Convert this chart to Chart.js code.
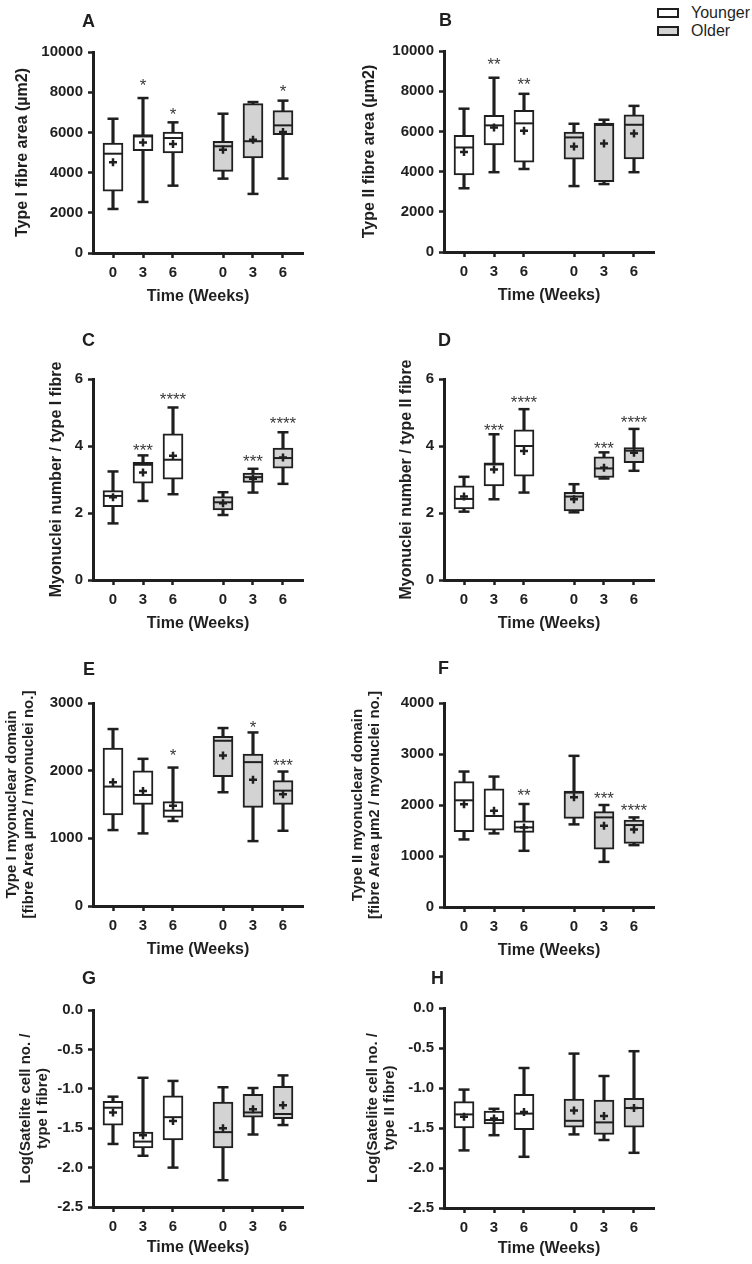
<!DOCTYPE html>
<html>
<head>
<meta charset="utf-8">
<script src="https://cdn.jsdelivr.net/npm/chart.js@4.4.1/dist/chart.umd.min.js"></script>
<style>
  body {
    margin: 0;
    width: 752px;
    height: 1264px;
    position: relative;
    overflow: hidden;
    background: #fff;
    color: #1f1f1f;
    font-family: "Liberation Sans", Arial, sans-serif;
  }
  canvas { position: absolute; }
  .letter { position: absolute; font-size: 18px; line-height: 18px; font-weight: bold; }
  .legend-row { position: absolute; left: 657px; height: 16px; display: flex; align-items: center; font-size: 16px; line-height: 16px; }
  .swatch { width: 18px; height: 6px; border: 2px solid #1f1f1f; margin-right: 12px; }
</style>
</head>
<body>
<div class="legend-row" style="top:5px"><div class="swatch" style="background:#fff"></div>Younger</div>
<div class="legend-row" style="top:23px"><div class="swatch" style="background:#d3d3d3"></div>Older</div>

<script>
const weekLabels = ['0', '3', '6', '0', '3', '6'];
const ageGroup = ['Younger', 'Younger', 'Younger', 'Older', 'Older', 'Older'];

// A - type I fibre area
const aMin  = [2190, 2540, 3350, 3700, 2940, 3700];
const aQ1   = [3070, 5090, 4980, 4060, 4730, 5890];
const aMed  = [4940, 5800, 5720, 5310, 5560, 6350];
const aQ3   = [5470, 5890, 6020, 5560, 7430, 7080];
const aMax  = [6680, 7710, 6500, 6930, 7510, 7580];
const aMean = [4510, 5500, 5420, 5140, 5640, 6020];
const aStars = ['', '*', '*', '', '', '*'];
const aStarAt = [0, 8540, 7130, 0, 0, 8240];

// B - type II fibre area
const bMin  = [3170, 3970, 4130, 3280, 3380, 3970];
const bQ1   = [3830, 5330, 4470, 4620, 3500, 4630];
const bMed  = [5200, 6300, 6400, 5700, 6320, 6330];
const bQ3   = [5800, 6800, 7050, 5970, 6420, 6830];
const bMax  = [7130, 8670, 7870, 6380, 6580, 7270];
const bMean = [4970, 6200, 6030, 5250, 5400, 5900];
const bStars = ['', '**', '**', '', '', ''];
const bStarAt = [0, 9530, 8530, 0, 0, 0];

// C - myonuclei per type I fibre
const cMin  = [1.69, 2.36, 2.56, 1.94, 2.61, 2.87];
const cQ1   = [2.19, 2.89, 3.01, 2.09, 2.91, 3.34];
const cMed  = [2.51, 3.44, 3.59, 2.32, 3.07, 3.64];
const cQ3   = [2.67, 3.51, 4.36, 2.49, 3.19, 3.94];
const cMax  = [3.24, 3.72, 5.15, 2.62, 3.32, 4.41];
const cMean = [2.47, 3.21, 3.71, 2.29, 3.02, 3.66];
const cStars = ['', '***', '****', '', '***', '****'];
const cStarAt = [0, 3.99, 5.53, 0, 3.66, 4.81];

// D - myonuclei per type II fibre
const dMin  = [2.04, 2.41, 2.61, 2.02, 3.03, 3.26];
const dQ1   = [2.12, 2.81, 3.10, 2.06, 3.06, 3.50];
const dMed  = [2.42, 3.45, 4.00, 2.49, 3.33, 3.86];
const dQ3   = [2.81, 3.50, 4.48, 2.62, 3.68, 3.95];
const dMax  = [3.08, 4.35, 5.10, 2.86, 3.81, 4.51];
const dMean = [2.49, 3.30, 3.85, 2.41, 3.35, 3.80];
const dStars = ['', '***', '****', '', '***', '****'];
const dStarAt = [0, 4.60, 5.44, 0, 4.06, 4.83];

// E - type I myonuclear domain
const eMin  = [1122, 1073, 1256, 1681, 959, 1112];
const eQ1   = [1345, 1503, 1310, 1913, 1458, 1503];
const eMed  = [1765, 1641, 1409, 2442, 2126, 1705];
const eQ3   = [2333, 1997, 1542, 2506, 2244, 1854];
const eMax  = [2615, 2175, 2046, 2630, 2565, 1987];
const eMean = [1829, 1700, 1483, 2224, 1864, 1651];
const eStars = ['', '', '*', '', '*', '***'];
const eStarAt = [0, 0, 2284, 0, 2704, 2135];

// F - type II myonuclear domain
const fMin  = [1325, 1443, 1102, 1620, 885, 1213];
const fQ1   = [1475, 1508, 1462, 1738, 1134, 1246];
const fMed  = [2092, 1784, 1561, 2243, 1757, 1607];
const fQ3   = [2459, 2315, 1692, 2275, 1869, 1705];
const fMax  = [2656, 2557, 2020, 2964, 2000, 1757];
const fMean = [2013, 1889, 1561, 2151, 1593, 1521];
const fStars = ['', '', '**', '', '***', '****'];
const fStarAt = [0, 0, 2262, 0, 2216, 1987];

// G - log satellite cells per type I fibre
const gMin  = [-1.70, -1.85, -2.00, -2.16, -1.58, -1.46];
const gQ1   = [-1.46, -1.75, -1.65, -1.75, -1.36, -1.38];
const gMed  = [-1.24, -1.67, -1.36, -1.55, -1.30, -1.32];
const gQ3   = [-1.16, -1.55, -1.09, -1.17, -1.07, -0.97];
const gMax  = [-1.10, -0.86, -0.90, -0.98, -0.99, -0.83];
const gMean = [-1.30, -1.59, -1.41, -1.50, -1.26, -1.21];

// H - log satellite cells per type II fibre
const hMin  = [-1.78, -1.59, -1.86, -1.58, -1.65, -1.81];
const hQ1   = [-1.50, -1.45, -1.52, -1.49, -1.58, -1.49];
const hMed  = [-1.33, -1.40, -1.32, -1.41, -1.43, -1.25];
const hQ3   = [-1.17, -1.29, -1.08, -1.14, -1.15, -1.13];
const hMax  = [-1.02, -1.26, -0.75, -0.57, -0.85, -0.54];
const hMean = [-1.36, -1.38, -1.30, -1.28, -1.35, -1.25];

const noStars = ['', '', '', '', '', ''];

const ink = '#1f1f1f';
const fontFamily = '"Liberation Sans", Arial, sans-serif';
const groupFill = { Younger: '#ffffff', Older: '#d3d3d3' };
// slot positions on the x axis (gap between the two age groups)
const slotX = [0, 1, 2, 3.667, 4.667, 5.667];

const starPlugin = {
    id: 'starMarks',
    afterDatasetsDraw(chart, args, opts) {
        const { ctx, scales: { x, y } } = chart;
        const size = 17;
        ctx.save();
        ctx.font = size + 'px ' + fontFamily;
        ctx.fillStyle = '#3a3a3a';
        ctx.textAlign = 'center';
        ctx.textBaseline = 'alphabetic';
        opts.labels.forEach((txt, i) => {
            if (!txt) return;
            ctx.fillText(txt, x.getPixelForValue(slotX[i]), y.getPixelForValue(opts.at[i]) + size * 0.58);
        });
        ctx.restore();
    }
};

const panels = [
    { letter: 'A', left: 0, axisX: 93, top: 52, bottom: 253, min: 0, max: 10000, step: 2000, dec: 0,
      title: 'Type I fibre area (µm2)', titleX: 23, xGap: 44,
      stats: [aMin, aQ1, aMed, aQ3, aMax, aMean], stars: aStars, starAt: aStarAt,
      letterPos: [82, 12] },
    { letter: 'B', left: 336, axisX: 444, top: 51, bottom: 252, min: 0, max: 10000, step: 2000, dec: 0,
      title: 'Type II fibre area (µm2)', titleX: 370, xGap: 44,
      stats: [bMin, bQ1, bMed, bQ3, bMax, bMean], stars: bStars, starAt: bStarAt,
      letterPos: [439, 11] },
    { letter: 'C', left: 0, axisX: 93, top: 379, bottom: 580, min: 0, max: 6, step: 2, dec: 0,
      title: 'Myonuclei number / type I fibre', titleX: 57, xGap: 44,
      stats: [cMin, cQ1, cMed, cQ3, cMax, cMean], stars: cStars, starAt: cStarAt,
      letterPos: [82, 331] },
    { letter: 'D', left: 336, axisX: 444, top: 379, bottom: 580, min: 0, max: 6, step: 2, dec: 0,
      title: 'Myonuclei number / type II fibre', titleX: 407, xGap: 44,
      stats: [dMin, dQ1, dMed, dQ3, dMax, dMean], stars: dStars, starAt: dStarAt,
      letterPos: [438, 331] },
    { letter: 'E', left: 0, axisX: 93, top: 703, bottom: 906, min: 0, max: 3000, step: 1000, dec: 0,
      title: ['Type I myonuclear domain', '[fibre Area µm2 / myonuclei no.]'], titleX: 12, xGap: 44,
      stats: [eMin, eQ1, eMed, eQ3, eMax, eMean], stars: eStars, starAt: eStarAt,
      letterPos: [83, 660] },
    { letter: 'F', left: 336, axisX: 444, top: 703, bottom: 907, min: 0, max: 4000, step: 1000, dec: 0,
      title: ['Type II myonuclear domain', '[fibre Area µm2 / myonuclei no.]'], titleX: 358, xGap: 44,
      stats: [fMin, fQ1, fMed, fQ3, fMax, fMean], stars: fStars, starAt: fStarAt,
      letterPos: [438, 659] },
    { letter: 'G', left: 0, axisX: 93, top: 1010, bottom: 1207, min: -2.5, max: 0, step: 0.5, dec: 1,
      title: ['Log(Satelite cell no. /', 'type I fibre)'], titleX: 26, xGap: 41,
      stats: [gMin, gQ1, gMed, gQ3, gMax, gMean], stars: noStars, starAt: [],
      letterPos: [82, 969] },
    { letter: 'H', left: 336, axisX: 444, top: 1008, bottom: 1208, min: -2.5, max: 0, step: 0.5, dec: 1,
      title: ['Log(Satelite cell no. /', 'type II fibre)'], titleX: 373, xGap: 41,
      stats: [hMin, hQ1, hMed, hQ3, hMax, hMean], stars: noStars, starAt: [],
      letterPos: [431, 969] }
];

function buildPanel(p) {
    const padTop = 40;
    const xAxisH = 60;
    const plotW = 210;
    const yW = p.axisX - p.left;
    const width = p.left === 0 ? 376 : 416;
    const height = (p.bottom - p.top) + padTop + xAxisH;

    const canvas = document.createElement('canvas');
    canvas.width = width;
    canvas.height = height;
    canvas.style.left = p.left + 'px';
    canvas.style.top = (p.top - padTop) + 'px';
    document.body.appendChild(canvas);

    const label = document.createElement('div');
    label.className = 'letter';
    label.textContent = p.letter;
    label.style.left = p.letterPos[0] + 'px';
    label.style.top = p.letterPos[1] + 'px';
    document.body.appendChild(label);

    const [mins, q1, med, q3, maxs, mean] = p.stats;
    const multi = Array.isArray(p.title);
    const titleSize = multi ? 15 : 16;
    const titleLH = multi ? 17 : 19.2;
    const tickFont = { family: fontFamily, size: 15, weight: 'bold' };

    new Chart(canvas.getContext('2d'), {
        type: 'bar',
        data: {
            datasets: [
                {
                    // whisker stems
                    type: 'bar',
                    data: slotX.map((x, i) => ({ x, y: [mins[i], maxs[i]] })),
                    backgroundColor: ink,
                    barThickness: 2.5,
                    grouped: false,
                    order: 5
                },
                {
                    // boxes
                    type: 'bar',
                    data: slotX.map((x, i) => ({ x, y: [q1[i], q3[i]] })),
                    backgroundColor: ageGroup.map(g => groupFill[g]),
                    borderColor: ink,
                    borderWidth: 2,
                    borderSkipped: false,
                    barThickness: 20,
                    grouped: false,
                    order: 4
                },
                {
                    // whisker caps
                    type: 'scatter',
                    data: slotX.map((x, i) => ({ x, y: mins[i] })).concat(slotX.map((x, i) => ({ x, y: maxs[i] }))),
                    pointStyle: 'line',
                    pointRadius: 5.5,
                    borderWidth: 2.5,
                    borderColor: ink,
                    order: 3
                },
                {
                    // medians
                    type: 'scatter',
                    data: slotX.map((x, i) => ({ x, y: med[i] })),
                    pointStyle: 'line',
                    pointRadius: 9,
                    borderWidth: 2,
                    borderColor: ink,
                    order: 2
                },
                {
                    // means
                    type: 'scatter',
                    data: slotX.map((x, i) => ({ x, y: mean[i] })),
                    pointStyle: 'cross',
                    pointRadius: 4,
                    borderWidth: 2.5,
                    borderColor: ink,
                    order: 1
                }
            ]
        },
        options: {
            responsive: false,
            animation: false,
            events: [],
            devicePixelRatio: 1,
            layout: { padding: { top: padTop, right: width - yW - plotW, bottom: 0, left: 0 } },
            plugins: {
                legend: { display: false },
                tooltip: { enabled: false },
                starMarks: { labels: p.stars, at: p.starAt }
            },
            scales: {
                x: {
                    type: 'linear',
                    min: slotX[0] - 0.667,
                    max: slotX[5] + 0.667,
                    offset: false,
                    afterBuildTicks: s => { s.ticks = slotX.map(v => ({ value: v })); },
                    afterFit: s => { s.height = xAxisH; },
                    grid: { offset: false, drawOnChartArea: false, drawTicks: true, tickLength: 5, tickWidth: 2.5, tickColor: ink },
                    border: { display: true, width: 3, color: ink },
                    ticks: {
                        color: ink,
                        font: tickFont,
                        padding: 6,
                        maxRotation: 0,
                        autoSkip: false,
                        callback: (v, i) => weekLabels[i]
                    },
                    title: {
                        display: true,
                        text: 'Time (Weeks)',
                        color: ink,
                        font: { family: fontFamily, size: 16, weight: 'bold', lineHeight: 1.2 },
                        padding: { top: 0, bottom: xAxisH - p.xGap - 9.6 }
                    }
                },
                y: {
                    min: p.min,
                    max: p.max,
                    afterFit: s => { s.width = yW; },
                    grid: { drawOnChartArea: false, drawTicks: true, tickLength: 5, tickWidth: 2.5, tickColor: ink },
                    border: { display: true, width: 3, color: ink },
                    ticks: {
                        stepSize: p.step,
                        color: ink,
                        font: tickFont,
                        padding: 5,
                        callback: v => v.toFixed(p.dec)
                    },
                    title: {
                        display: true,
                        text: p.title,
                        color: ink,
                        font: { family: fontFamily, size: titleSize, weight: 'bold', lineHeight: titleLH / titleSize },
                        padding: { top: p.titleX - p.left - titleLH / 2, bottom: 0 }
                    }
                }
            }
        },
        plugins: [starPlugin]
    });
}

document.addEventListener('DOMContentLoaded', () => {
    if (typeof Chart === 'undefined') {
        console.error('Chart.js not loaded!');
        return;
    }
    panels.forEach(buildPanel);
});
</script>
</body>
</html>
